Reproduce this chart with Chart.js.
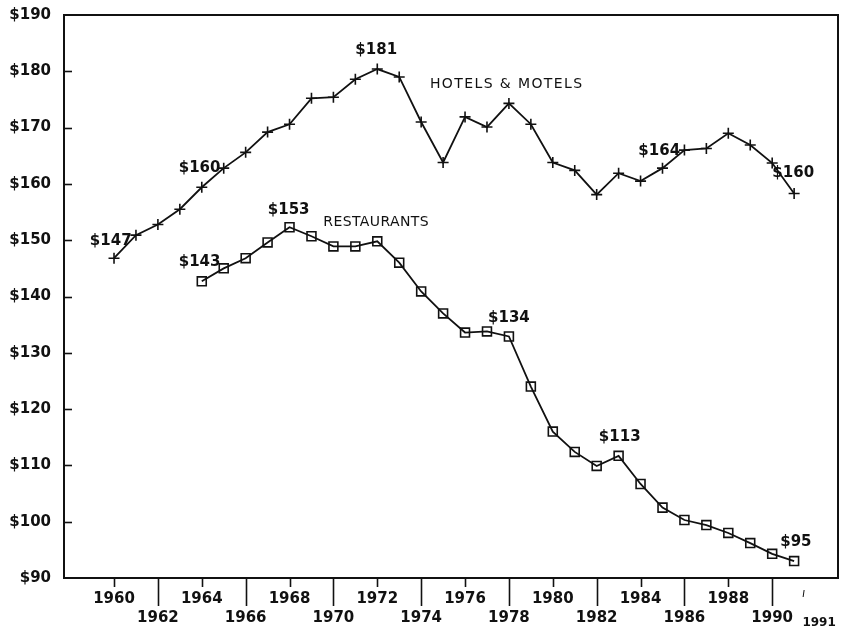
<!DOCTYPE html>
<html>
<head>
<meta charset="utf-8">
<script src="https://cdn.jsdelivr.net/npm/chart.js@4/dist/chart.umd.min.js"></script>
<style>
  html, body { margin: 0; padding: 0; background: #ffffff; }
  #wrap { width: 841px; height: 632px; position: relative; }
</style>
</head>
<body>
<div id="wrap"><canvas id="c" width="841" height="632"></canvas></div>
<script>
// ---- data ----
const hotelYears = [1960,1961,1962,1963,1964,1965,1966,1967,1968,1969,1970,1971,1972,1973,1974,1975,
                    1976,1977,1978,1979,1980,1981,1982,1983,1984,1985,1986,1987,1988,1989,1990,1991];
const hotelValues = [146.8,150.9,152.8,155.5,159.4,162.8,165.6,169.2,170.6,175.2,175.4,178.6,180.4,179.0,171.0,163.8,
                     171.9,170.1,174.3,170.6,163.8,162.4,158.1,161.9,160.5,162.8,166.0,166.3,169.0,166.9,163.7,158.3];
const restaurantYears = [1964,1965,1966,1967,1968,1969,1970,1971,1972,1973,1974,1975,1976,1977,
                         1978,1979,1980,1981,1982,1983,1984,1985,1986,1987,1988,1989,1990,1991];
const restaurantValues = [142.7,145.0,146.8,149.6,152.3,150.7,148.9,148.9,149.8,146.0,140.9,137.0,133.6,133.8,
                          132.9,124.0,116.0,112.4,109.9,111.7,106.7,102.5,100.3,99.4,98.0,96.2,94.3,93.0];
const xTickYears = [1960,1962,1964,1966,1968,1970,1972,1974,1976,1978,1980,1982,1984,1986,1988,1990];
const yTickValues = [90,100,110,120,130,140,150,160,170,180,190];
const extraYearLabel = '1991';
const seriesLabels = ['HOTELS & MOTELS', 'RESTAURANTS'];
// text annotations anchored in data coordinates (year, value)
const notes = [
  { text: '$147', year: 1959.85, value: 149.9 },
  { text: '$160', year: 1963.9, value: 162.8 },
  { text: '$181', year: 1971.95, value: 183.8 },
  { text: seriesLabels[0], year: 1977.9, value: 177.6, plain: true },
  { text: '$164', year: 1984.85, value: 165.8 },
  { text: '$160', year: 1990.96, value: 161.9 },
  { text: '$153', year: 1967.96, value: 155.4 },
  { text: seriesLabels[1], year: 1971.95, value: 153.1, plain: true },
  { text: '$143', year: 1963.9, value: 146.1 },
  { text: '$134', year: 1978.0, value: 136.2 },
  { text: '$113', year: 1983.05, value: 115.0 },
  { text: '$95', year: 1991.08, value: 96.4 }
];

const INK = '#111111';
const BOLD = 'bold 15px "DejaVu Sans"';

const framePlugin = {
  id: 'frame',
  afterDraw(chart) {
    const ctx = chart.ctx;
    const a = chart.chartArea;
    const xs = chart.scales.x, ys = chart.scales.y;
    ctx.save();
    ctx.strokeStyle = INK;
    ctx.lineWidth = 2;
    ctx.strokeRect(a.left, a.top, a.right - a.left, a.bottom - a.top);
    // x tick marks (short for upper-row years, long for lower-row years)
    ctx.lineWidth = 1.6;
    xTickYears.forEach(yr => {
      const px = Math.round(xs.getPixelForValue(yr)) + 0.5;
      const len = ((yr - 1960) % 4 === 0) ? 9 : 28;
      ctx.beginPath(); ctx.moveTo(px, a.bottom); ctx.lineTo(px, a.bottom + len); ctx.stroke();
    });
    // y tick marks, inward
    yTickValues.slice(1, -1).forEach(v => {
      const py = Math.round(ys.getPixelForValue(v)) + 0.5;
      ctx.beginPath(); ctx.moveTo(a.left, py); ctx.lineTo(a.left + 8, py); ctx.stroke();
    });
    // 1991 small label
    const p91 = xs.getPixelForValue(Number(extraYearLabel));
    ctx.fillStyle = INK;
    ctx.font = 'bold 12px "DejaVu Sans"';
    ctx.textAlign = 'center'; ctx.textBaseline = 'middle';
    ctx.fillText(extraYearLabel, p91 + 25, 623);
    ctx.lineWidth = 1;
    ctx.beginPath(); ctx.moveTo(p91 + 10, a.bottom + 12); ctx.lineTo(p91 + 9, a.bottom + 19); ctx.stroke();
    // annotations
    notes.forEach(n => {
      const px = xs.getPixelForValue(n.year), py = ys.getPixelForValue(n.value);
      if (n.plain) {
        ctx.font = '14px "DejaVu Sans"';
        ctx.letterSpacing = n.text.length > 12 ? '1.4px' : '0.4px';
      } else {
        ctx.font = BOLD;
        ctx.letterSpacing = '0px';
      }
      ctx.fillText(n.text, px, py);
    });
    ctx.restore();
  }
};

new Chart(document.getElementById('c'), {
  type: 'line',
  data: {
    datasets: [
      {
        label: seriesLabels[0],
        data: hotelYears.map((y, i) => ({ x: y, y: hotelValues[i] })),
        borderColor: INK, borderWidth: 1.8,
        pointStyle: 'cross', pointRadius: 5.5, pointBorderWidth: 1.6,
        pointBorderColor: INK, pointBackgroundColor: INK,
        tension: 0, fill: false
      },
      {
        label: seriesLabels[1],
        data: restaurantYears.map((y, i) => ({ x: y, y: restaurantValues[i] })),
        borderColor: INK, borderWidth: 1.8,
        pointStyle: 'rect', pointRadius: 6.3, pointBorderWidth: 1.6,
        pointBorderColor: INK, pointBackgroundColor: 'rgba(255,255,255,0)',
        tension: 0, fill: false
      }
    ]
  },
  options: {
    responsive: false,
    animation: false,
    events: [],
    layout: { autoPadding: false, padding: { top: 15, right: 3, left: 0, bottom: 0 } },
    plugins: { legend: { display: false }, tooltip: { enabled: false } },
    scales: {
      x: {
        type: 'linear',
        min: 1957.72, max: 1993.0,
        grid: { display: false, drawTicks: false },
        border: { display: false },
        afterBuildTicks: s => { s.ticks = xTickYears.map(v => ({ value: v })); },
        afterFit: s => { s.height = 54; s.paddingLeft = 0; s.paddingRight = 0; },
        ticks: {
          color: INK,
          font: { family: 'DejaVu Sans', size: 15, weight: 'bold', lineHeight: 1.25 },
          padding: 12,
          maxRotation: 0, autoSkip: false,
          callback: v => ((v - 1960) % 4 === 0) ? [String(v), ''] : ['', String(v)]
        }
      },
      y: {
        type: 'linear',
        min: 90, max: 190,
        grid: { display: false, drawTicks: false },
        border: { display: false },
        afterBuildTicks: s => { s.ticks = yTickValues.map(v => ({ value: v })); },
        afterFit: s => { s.width = 64; s.paddingTop = 0; s.paddingBottom = 0; },
        ticks: {
          color: INK,
          font: { family: 'DejaVu Sans', size: 15, weight: 'bold' },
          padding: 13,
          callback: v => '$' + v
        }
      }
    }
  },
  plugins: [framePlugin]
});
</script>
</body>
</html>
